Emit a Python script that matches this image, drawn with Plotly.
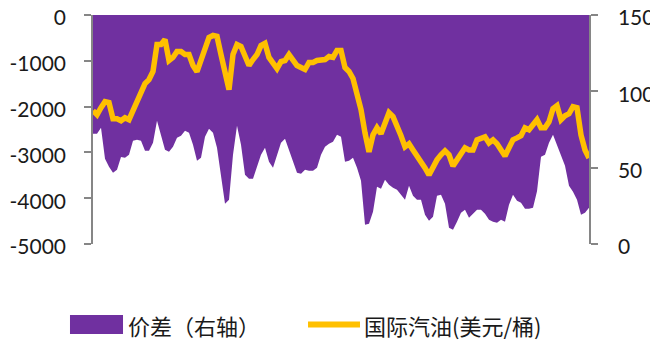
import plotly.graph_objects as go

# 价差 (left axis) at regular steps
spread = [-2591, -2591, -2460, -3137, -3311, -3443, -3377, -3100, -3115, -3050,
          -2744, -2722, -2744, -2962, -2962, -2788, -2307, -2613, -2940, -2984,
          -2875, -2679, -2635, -2526, -2569, -2831, -3181, -3115, -2657, -2482,
          -2569, -2897, -3486, -4119, -4032, -3050, -2417, -2831, -3486, -3574,
          -3574, -3333, -3050, -2897, -3202, -3333, -3050, -2788, -2700, -2940,
          -3159, -3443, -3464, -3377, -3399, -3399, -3333, -3050, -2875, -2810,
          -2766, -2613, -2657, -3202, -3181, -3115, -3333, -3617, -4578, -4556,
          -4294, -3748, -3792, -3595, -3704, -3770, -3814, -3923, -4032, -3726,
          -3945, -4032, -4032, -4359, -4490, -4403, -3945, -3923, -4119, -4643,
          -4687, -4512, -4316, -4250, -4425, -4337, -4250, -4250, -4337, -4469,
          -4512, -4534, -4469, -4512, -4141, -3923, -4054, -4097, -4228, -4228,
          -4206, -3850, -3093, -3050, -2788, -2613, -2853, -3050, -3290, -3726,
          -3857, -4032, -4359, -4316, -4206]

# 国际汽油 (right axis, USD/bbl)
gasoline = [87.3, 84.7, 89.3, 93.2, 92.6, 82.0, 82.0, 80.7, 82.7, 81.4,
            87.3, 92.6, 99.1, 105.1, 107.7, 113.0, 130.7, 130.7, 134.0, 120.2,
            122.2, 126.1, 126.1, 124.1, 124.1, 116.9, 112.9, 120.8, 127.4, 135.3,
            136.6, 136.0, 124.1, 110.3, 101.1, 124.1, 130.7, 129.4, 122.8, 116.9,
            120.8, 124.1, 130.0, 131.4, 122.2, 118.9, 114.9, 119.5, 120.2, 124.1,
            120.2, 116.9, 115.6, 114.3, 118.9, 118.9, 120.2, 120.8, 120.8, 122.8,
            122.2, 126.8, 126.8, 115.6, 113.0, 108.4, 99.1, 88.0, 72.8, 60.3,
            71.5, 76.1, 72.2, 78.1, 86.0, 83.4, 78.1, 70.9, 63.6, 65.6,
            61.6, 57.7, 55.1, 49.8, 45.2, 50.5, 55.1, 58.4, 61.0, 58.4,
            51.1, 55.1, 58.4, 63.0, 61.6, 61.6, 68.2, 69.5, 70.2, 66.2,
            68.2, 65.6, 61.6, 57.7, 63.0, 68.2, 69.5, 70.9, 76.1, 74.8,
            78.1, 81.4, 76.1, 76.1, 80.1, 88.6, 90.6, 81.4, 84.0, 85.3,
            89.9, 89.3, 71.5, 61.6, 56.4]

left_ticks = [0, -1000, -2000, -3000, -4000, -5000]
left_labels = ["0", "-1000", "-2000", "-3000", "-4000", "-5000"]
right_ticks = [0, 50, 100, 150]

series_names = ["价差（右轴）", "国际汽油(美元/桶)"]

PURPLE = "#7030A0"
GOLD = "#FFC000"
AXIS_GREY = "#868686"


def create_spread_plot():
    """
    Spread area (left axis) with gasoline price line (right axis).
    """
    x = list(range(len(spread)))
    fig = go.Figure()

    fig.add_trace(
        go.Scatter(
            x=x,
            y=spread,
            mode="lines",
            fill="tozeroy",
            fillcolor=PURPLE,
            line=dict(color=PURPLE, width=0),
            name=series_names[0],
            showlegend=False,
        )
    )
    fig.add_trace(
        go.Scatter(
            x=x,
            y=gasoline,
            mode="lines",
            line=dict(color=GOLD, width=5.5),
            name=series_names[1],
            yaxis="y2",
            showlegend=False,
        )
    )

    tick_font = dict(family="Lato, Open Sans, sans-serif", size=21, color="#1a1a1a")
    axis_style = dict(
        showgrid=False,
        zeroline=False,
        showline=True,
        linecolor=AXIS_GREY,
        linewidth=1.5,
        ticks="outside",
        ticklen=7,
        tickcolor=AXIS_GREY,
        tickwidth=1.5,
        tickfont=tick_font,
        automargin=False,
        ticklabeloverflow="allow",
        ticklabelshift=3,
    )
    # page body adds an 8px margin, so the figure is 8px smaller on each side
    fig.update_layout(
        width=650,
        height=335,
        margin=dict(l=85, r=69, t=7, b=99),
        plot_bgcolor="white",
        paper_bgcolor="white",
        xaxis=dict(
            range=[0, len(spread) - 1],
            visible=False,
        ),
        yaxis=dict(
            range=[-5000, 0],
            tickvals=left_ticks,
            ticktext=left_labels,
            ticklabelstandoff=14,
            **axis_style,
        ),
        yaxis2=dict(
            range=[0, 150],
            tickvals=right_ticks,
            overlaying="y",
            side="right",
            ticklabelstandoff=16,
            **axis_style,
        ),
    )

    # hand-drawn legend below the plot
    fig.add_shape(
        type="rect", xref="paper", yref="paper",
        x0=-0.0464, x1=0.0605, y0=-0.393, y1=-0.310,
        fillcolor=PURPLE, line=dict(width=0),
    )
    fig.add_shape(
        type="line", xref="paper", yref="paper",
        x0=0.4335, x1=0.5383, y0=-0.351, y1=-0.351,
        line=dict(color=GOLD, width=6),
    )
    legend_font = dict(family="Noto Sans CJK SC", size=22, color="#1a1a1a")
    for name, xpos in zip(series_names, [0.066, 0.543]):
        fig.add_annotation(
            text=name, xref="paper", yref="paper",
            x=xpos, y=-0.352, xanchor="left", yanchor="middle",
            showarrow=False, font=legend_font,
        )

    return fig


fig = create_spread_plot()
fig.write_html("out.html")
